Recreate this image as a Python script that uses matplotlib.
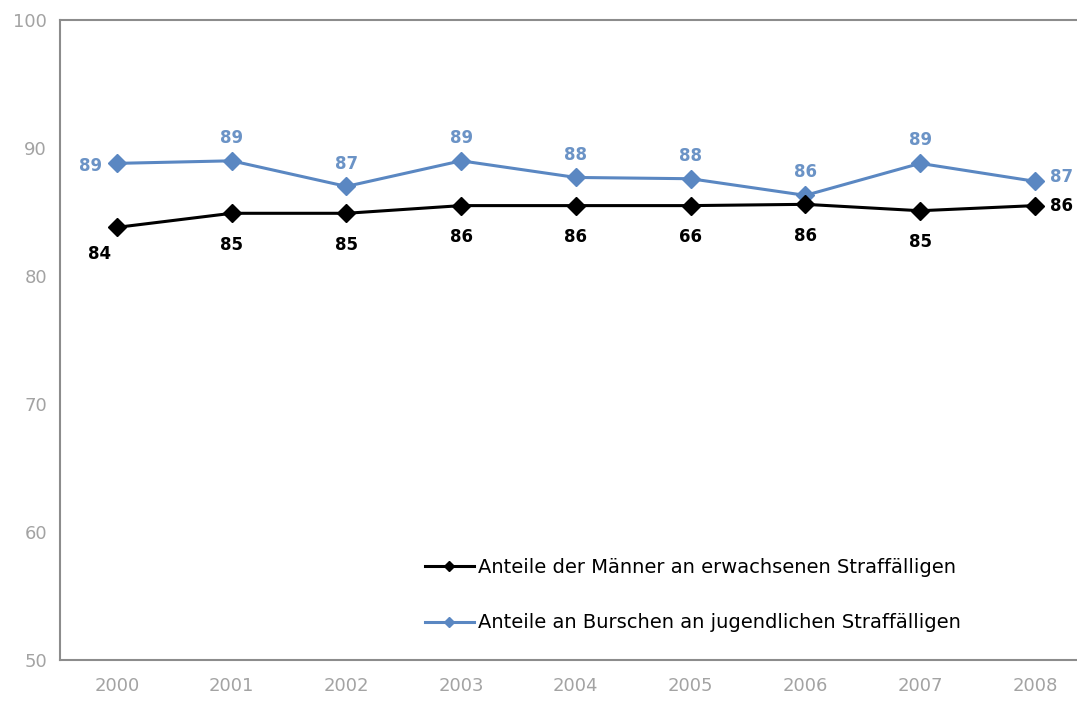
import matplotlib.pyplot as plt
import numpy as np

years = ["2000", "2001", "2002", "2003", "2004", "2005", "2006", "2007", "2008"]

# share of men among adult offenders (%)
men_adult = [83.8, 84.9, 84.9, 85.5, 85.5, 85.5, 85.6, 85.1, 85.5]
men_adult_labels = ["84", "85", "85", "86", "86", "66", "86", "85", "86"]

# share of boys among juvenile offenders (%)
boys_juvenile = [88.8, 89.0, 87.0, 89.0, 87.7, 87.6, 86.3, 88.8, 87.4]
boys_juvenile_labels = ["89", "89", "87", "89", "88", "88", "86", "89", "87"]

blue = "#5a87c2"
blue_text = "#6b93c6"
gray = "#a3a3a3"

fig = plt.figure(figsize=(10.77, 7.02), dpi=100)
ax = fig.add_axes([0.0553, 0.0598, 0.9588, 0.9117])

x = np.arange(len(years))

ax.plot(x, boys_juvenile, color=blue, lw=2.2, marker="D", markersize=9,
        label="Anteile an Burschen an jugendlichen Straffälligen", zorder=3)
ax.plot(x, men_adult, color="black", lw=2.2, marker="D", markersize=9,
        label="Anteile der Männer an erwachsenen Straffälligen", zorder=4)

# value labels: blue above, black below, first/last shifted sideways
fs = 12
for i, (v, t) in enumerate(zip(boys_juvenile, boys_juvenile_labels)):
    if i == 0:
        ax.annotate(t, (i, v), xytext=(-11, -2), textcoords="offset points",
                    ha="right", va="center", color=blue_text, fontsize=fs, fontweight="bold")
    elif i == len(years) - 1:
        ax.annotate(t, (i, v), xytext=(11, 3), textcoords="offset points",
                    ha="left", va="center", color=blue_text, fontsize=fs, fontweight="bold")
    else:
        ax.annotate(t, (i, v), xytext=(0, 10), textcoords="offset points",
                    ha="center", va="bottom", color=blue_text, fontsize=fs, fontweight="bold")

for i, (v, t) in enumerate(zip(men_adult, men_adult_labels)):
    if i == 0:
        ax.annotate(t, (i, v), xytext=(-4, -13), textcoords="offset points",
                    ha="right", va="top", color="black", fontsize=fs, fontweight="bold")
    elif i == len(years) - 1:
        ax.annotate(t, (i, v), xytext=(11, 0), textcoords="offset points",
                    ha="left", va="center", color="black", fontsize=fs, fontweight="bold")
    else:
        ax.annotate(t, (i, v), xytext=(0, -16), textcoords="offset points",
                    ha="center", va="top", color="black", fontsize=fs, fontweight="bold")

ax.set_xlim(-0.5, len(years) - 0.5)
ax.set_ylim(50, 100)
ax.set_yticks([50, 60, 70, 80, 90, 100])
ax.set_xticks(x)
ax.set_xticklabels(years)
ax.tick_params(length=0, colors=gray, labelsize=13)
ax.tick_params(axis="y", pad=9)
ax.tick_params(axis="x", pad=12)

for side in ["left", "bottom", "top"]:
    ax.spines[side].set_color("#8c8c8c")
    ax.spines[side].set_linewidth(1.5)
ax.spines["right"].set_visible(False)

handles, labels = ax.get_legend_handles_labels()
leg = ax.legend(handles[::-1], labels[::-1], loc="upper left",
                bbox_to_anchor=(0.337, 0.1875), frameon=False, fontsize=14,
                handlelength=2.5, handletextpad=0.2, labelspacing=1.9,
                markerscale=0.6)

fig.savefig("out.png", dpi=100)
